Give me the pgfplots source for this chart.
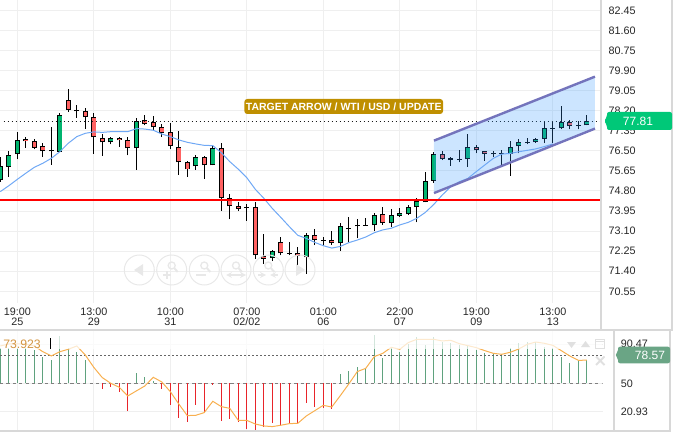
\documentclass[border=0pt]{standalone}
\usepackage{fontspec}
\setmainfont{Liberation Sans}
\usepackage{pgfplots}
\usepackage{pgfplotstable}
\pgfplotsset{compat=1.18}

\definecolor{gridc}{HTML}{EFEFEF}
\definecolor{framec}{HTML}{D8D8D8}
\definecolor{upc}{HTML}{00B46E}
\definecolor{downc}{HTML}{FF6262}
\definecolor{mac}{HTML}{6FA8F5}
\definecolor{chanfill}{HTML}{3399FF}
\definecolor{chanline}{HTML}{7474BC}
\definecolor{goldc}{HTML}{BF8F00}
\definecolor{badgec}{HTML}{00C878}
\definecolor{badge2c}{HTML}{6AA585}
\definecolor{histup}{HTML}{5FA27E}
\definecolor{histdown}{HTML}{E8242A}
\definecolor{rsic}{HTML}{F8B050}
\definecolor{navc}{HTML}{E8E8E8}

% i open high low close
\pgfplotstableread{
i open high low close
0 75.26 76.22 75.19 75.86
1 75.83 76.51 75.40 76.31
2 76.35 77.31 76.14 76.94
7 76.46 78.09 76.46 78.00
13 76.86 77.10 76.77 77.03
16 76.60 77.87 75.70 77.75
23 75.84 76.34 75.69 76.22
25 75.88 76.73 75.88 76.60
32 71.95 72.30 71.83 72.24
36 71.99 73.00 71.30 72.92
40 72.58 73.43 72.27 73.30
44 73.34 73.85 73.10 73.77
46 73.43 74.02 73.29 73.77
47 73.73 74.06 73.71 73.85
48 73.81 74.19 73.78 74.11
49 74.11 74.49 73.47 74.36
50 74.32 75.59 74.32 75.21
51 75.24 76.46 75.14 76.35
55 76.14 77.20 75.83 76.65
60 76.35 76.93 75.45 76.65
61 76.69 76.99 76.39 76.86
63 76.86 77.03 76.84 76.99
64 76.99 77.75 76.82 77.45
66 77.45 78.38 77.41 77.71
69 77.58 78.00 77.58 77.75
}\upbars

\pgfplotstableread{
i open high low close
3 76.99 77.10 76.63 76.90
4 76.90 76.99 76.56 76.63
5 76.69 76.82 76.25 76.48
6 76.52 77.49 75.91 76.48
8 78.64 79.10 78.16 78.24
9 78.21 78.44 77.90 78.17
10 78.17 78.33 77.44 77.92
11 77.92 78.11 76.38 77.07
12 77.03 77.20 76.29 76.86
14 77.03 77.10 76.67 76.94
15 76.94 77.07 76.31 76.60
17 77.79 78.00 77.58 77.62
18 77.71 77.96 77.38 77.49
19 77.49 77.62 77.10 77.24
20 77.28 77.66 76.56 76.69
21 76.65 77.32 75.49 76.01
22 76.01 76.05 75.40 75.71
24 76.22 76.30 75.32 75.88
26 76.60 76.82 73.96 74.49
27 74.49 74.66 73.60 74.15
28 74.15 74.35 73.95 74.05
29 74.11 74.25 73.54 74.06
30 74.11 74.35 71.93 72.07
31 72.03 72.96 71.71 71.93
33 72.62 72.86 72.07 72.16
34 72.16 72.62 72.07 72.13
35 72.16 72.44 71.38 72.03
37 72.92 73.17 72.51 72.71
38 72.71 72.84 72.48 72.67
39 72.71 73.09 72.51 72.58
41 73.22 73.68 72.62 73.17
42 73.34 73.60 72.79 73.30
43 73.34 73.64 73.32 73.33
45 73.81 74.11 73.36 73.43
52 76.35 76.49 76.11 76.14
53 76.18 76.25 75.87 76.10
54 76.14 76.53 76.01 76.10
56 76.65 76.75 76.39 76.52
57 76.48 76.49 76.08 76.36
58 76.39 76.49 76.24 76.35
59 76.39 76.53 75.90 76.36
62 76.86 77.03 76.77 76.82
65 77.45 77.75 76.84 77.44
67 77.71 77.80 77.41 77.54
68 77.58 77.78 77.41 77.54
}\downbars

\pgfplotstableread{
i v
0 86.2
1 86.2
2 86.2
3 86.2
4 84.5
5 76.9
6 74.1
7 98.9
8 86.2
9 82.1
10 74.1
16 61
17 56.2
18 52.4
40 59.7
41 62.8
42 66.5
43 66.2
44 100
45 75.9
46 86.2
47 82.7
48 90.7
49 97.6
50 89.6
51 98.3
52 93.1
53 91.4
54 89.6
55 88.6
56 84.5
57 81
58 80.3
59 80.3
60 86.2
61 91.4
62 92.4
63 93.1
64 87.9
65 86.2
66 77.6
67 70.7
68 74.1
69 74.1
}\histup

\pgfplotstableread{
i v
12 44.1
13 46.6
14 41.4
15 21.7
19 44.1
20 27.9
21 14.5
22 9.7
23 27.9
24 19
25 47.9
26 11.4
27 12.8
28 10.4
29 2.8
30 1.7
31 5.2
32 9.3
33 7.3
34 9.3
35 9.3
36 29.3
37 25.2
38 24.1
39 23.1
}\histdown

\begin{document}
\begin{tikzpicture}
\path[use as bounding box] (0pt,0pt) rectangle (517.5pt,-326.25pt);

\begin{axis}[
    at={(0pt,0pt)}, anchor=north west,
    scale only axis, width=450pt, height=227.25pt,
    xmin=-0.035, xmax=70.55, ymin=70.054, ymax=82.886,
    axis line style={draw=none}, major tick length=0pt,
    grid=major, major grid style={color=gridc, line width=0.75pt},
    xtick={2,11,20,29,38,47,56,65},
    xticklabels={{19:00\\25},{13:00\\29},{10:00\\31},{07:00\\02/02},{01:00\\06},{22:00\\07},{19:00\\09},{13:00\\13}},
    xticklabel style={align=center, font=\fontsize{8.1}{7.4}\selectfont, color=black!85, yshift=-0.1pt},
    ytick={70.55,71.40,72.25,73.10,73.95,74.80,75.65,76.50,77.35,78.20,79.05,79.90,80.75,81.60,82.45},
    ytick pos=right, yticklabel pos=right,
    yticklabel style={xshift=3pt, font=\fontsize{8.1}{9}\selectfont, color=black!85, /pgf/number format/fixed, /pgf/number format/fixed zerofill, /pgf/number format/precision=2, /pgf/number format/assume math mode=true},
    scaled y ticks=false,
]
% wicks
\addplot[draw=none, mark=none, error bars/.cd, y dir=plus, y explicit, error mark=none, error bar style={black, line width=0.75pt}]
    table[x=i, y=low, y error plus expr=\thisrow{high}-\thisrow{low}] {\upbars};
\addplot[draw=none, mark=none, error bars/.cd, y dir=plus, y explicit, error mark=none, error bar style={black, line width=0.75pt}]
    table[x=i, y=low, y error plus expr=\thisrow{high}-\thisrow{low}] {\downbars};
% bodies
\addplot[draw=none, mark=none, error bars/.cd, y dir=plus, y explicit, error mark=none, error bar style={black, line width=4pt}]
    table[x=i, y=open, y error plus expr=\thisrow{close}-\thisrow{open}] {\upbars};
\addplot[draw=none, mark=none, error bars/.cd, y dir=plus, y explicit, error mark=none, error bar style={upc, line width=2.6pt}]
    table[x=i, y expr=\thisrow{open}+0.04, y error plus expr={max(\thisrow{close}-\thisrow{open}-0.08,0)}] {\upbars};
\addplot[draw=none, mark=none, error bars/.cd, y dir=plus, y explicit, error mark=none, error bar style={black, line width=4pt}]
    table[x=i, y=close, y error plus expr=\thisrow{open}-\thisrow{close}] {\downbars};
\addplot[draw=none, mark=none, error bars/.cd, y dir=plus, y explicit, error mark=none, error bar style={downc, line width=2.6pt}]
    table[x=i, y expr=\thisrow{close}+0.04, y error plus expr={max(\thisrow{open}-\thisrow{close}-0.08,0)}] {\downbars};
% last price
\addplot[black!90, line width=0.8pt, dash pattern=on 1.1pt off 1.9pt, no marks] coordinates {(0.4,77.73)(70.55,77.73)};
% channel
\addplot[fill=chanfill, fill opacity=0.25, draw=none, no marks] coordinates {(51.02,76.93)(69.96,79.64)(69.96,77.44)(51.02,74.71)} -- cycle;
% moving average
\addplot[mac, line width=0.75pt, no marks] coordinates {
    (0,74.77)(1,75.02)(2,75.29)(3,75.55)(4,75.80)(5,75.97)(6,76.18)(7,76.46)(8,76.82)(9,77.10)
    (10,77.24)(11,77.30)(12,77.28)(13,77.31)(14,77.31)(15,77.31)(16,77.44)(17,77.42)(18,77.37)(19,77.21)
    (20,77.10)(21,76.96)(22,76.86)(23,76.79)(24,76.73)(25,76.72)(26,76.42)(27,76.04)(28,75.72)(29,75.36)
    (30,74.87)(31,74.49)(32,74.06)(33,73.68)(34,73.29)(35,72.92)(36,72.79)(37,72.62)(38,72.48)(39,72.38)
    (40,72.45)(41,72.61)(42,72.72)(43,72.85)(44,73.03)(45,73.15)(46,73.22)(47,73.36)(48,73.47)(49,73.64)
    (50,73.89)(51,74.23)(52,74.63)(53,74.98)(54,75.19)(55,75.33)(56,75.62)(57,75.90)(58,76.18)(59,76.36)
    (60,76.39)(61,76.46)(62,76.52)(63,76.58)(64,76.68)(65,76.79)
};
\addplot[chanline, line width=1.8pt, no marks] coordinates {(51.02,76.93)(69.96,79.64)};
\addplot[chanline, line width=1.8pt, no marks] coordinates {(51.02,74.71)(69.96,77.44)};
% support
\addplot[red, line width=1.6pt, no marks] coordinates {(-0.035,74.43)(70.55,74.43)};
% title tag
\node[fill=goldc, text=white, rounded corners=2.2pt, font=\fontsize{7.85}{9}\bfseries\selectfont, inner xsep=1.2pt, minimum height=11.25pt, inner ysep=0pt, text height=6pt, text depth=0pt]
    at (axis cs:40.4,78.376) {TARGET ARROW / WTI / USD / UPDATE};
\end{axis}

\begin{axis}[
    at={(0pt,-248.25pt)}, anchor=north west,
    scale only axis, width=452pt, height=74.25pt,
    xmin=-0.035, xmax=70.87, ymin=1.7, ymax=104.1,
    axis line style={draw=none}, major tick length=0pt,
    grid=major, major grid style={color=gridc, line width=0.75pt},
    xtick={2,11,20,29,38,47,56,65}, xticklabels={},
    ytick={20.93,50,90.47}, yticklabels={20.93,50,90.47},
    ytick pos=right, yticklabel pos=right,
    yticklabel style={xshift=10.2pt, font=\fontsize{8.1}{9}\selectfont, color=black!85},
]
\addplot[gray, line width=0.75pt, dash pattern=on 2.4pt off 2.4pt, no marks] coordinates {(-0.035,50)(70.87,50)};
\addplot[draw=none, mark=none, error bars/.cd, y dir=plus, y explicit, error mark=none, error bar style={histup, line width=0.75pt}]
    table[x=i, y expr=50, y error plus expr=\thisrow{v}-50] {\histup};
\addplot[draw=none, mark=none, error bars/.cd, y dir=minus, y explicit, error mark=none, error bar style={histdown, line width=0.75pt}]
    table[x=i, y expr=50, y error minus expr=50-\thisrow{v}] {\histdown};
\addplot[black!60, line width=1.1pt, dash pattern=on 1.2pt off 1.8pt, no marks] coordinates {(-0.035,78.57)(70.87,78.57)};
\addplot[rsic, line width=0.75pt, no marks] coordinates {
    (0,88.6)(1,90.7)(2,90.7)(3,90.7)(4,88.6)(5,82.7)(6,78.3)(7,82.7)(8,85.2)(9,88.6)
    (10,79.3)(11,66.5)(12,55.9)(13,50)(14,45.9)(15,36.9)(16,42.1)(17,47.2)(18,56.2)(19,51.4)
    (20,41.4)(21,28.6)(22,16.6)(23,16.9)(24,19.7)(25,31.4)(26,25.9)(27,24.1)(28,11.7)(29,11.7)
    (30,7.9)(31,5.9)(32,5.2)(33,6.6)(34,8.3)(35,8.6)(36,16.2)(37,21.7)(38,27.2)(39,25.5)
    (40,37.2)(41,49.3)(42,62.1)(43,65.5)(44,77.6)(45,81)(46,87.2)(47,85.2)(48,92.1)(49,95.5)
    (50,95.5)(51,95.5)(52,93.8)(53,94.5)(54,91)(55,89)(56,86.9)(57,83.8)(58,81)(59,80)
    (60,82.1)(61,85.5)(62,90.3)(63,92.7)(64,91.4)(65,89.3)(66,83.8)(67,78.3)(68,73.8)(69,73.9)
};
\end{axis}

% frames, badges and controls, in pixels of the reference
\begin{scope}[x=0.75pt, y=-0.75pt]
  \fill[white, opacity=0.72] (0,331) rectangle (602,348.5);
  \draw[framec, line width=1.5pt] (601,0) -- (601,329);
  \draw[framec, line width=0.9pt] (672,0) -- (672,329.5);
  \draw[framec, line width=1.5pt] (0,329.7) -- (672.5,329.7);
  \draw[framec, line width=1.2pt] (614,330) -- (614,431);
  \draw[framec, line width=0.9pt] (670,330) -- (670,431);
  \draw[framec, line width=1.5pt] (0,431) -- (670.5,431);

  \fill[badgec, rounded corners=1.5pt] (604,121) -- (607,117) -- (607,112) -- (672,112) -- (672,130) -- (607,130) -- (607,125) -- cycle;
  \node[text=white, font=\fontsize{9}{10}\selectfont] at (638,121) {77.81};
  \fill[badge2c, rounded corners=1.5pt] (615,355) -- (618,352) -- (618,346.7) -- (670,346.7) -- (670,363.3) -- (618,363.3) -- (618,358) -- cycle;
  \node[text=white, font=\fontsize{9}{10}\selectfont] at (650,355) {78.57};

  \node[anchor=west, inner sep=0pt, text=rsic!85!black, font=\fontsize{9.2}{10}\selectfont] at (3,344) {73.923};
  \draw[black, line width=0.75pt] (50.5,338) -- (50.5,348.5);

  % indicator controls
  \fill[black!12] (567,342) -- (576,342) -- (571.5,348) -- cycle;
  \fill[black!12] (581,347) -- (590,347) -- (585.5,341) -- cycle;
  \draw[black!12, line width=0.75pt] (595.5,339) rectangle (604.5,348);
  \draw[black!12, line width=0.75pt] (595.5,341) -- (604.5,341);
  \draw[black!12, line width=1.5pt] (596,356.5) -- (604.5,365);
  \draw[black!12, line width=1.5pt] (604.5,356.5) -- (596,365);

  % navigator
  \foreach \cx in {139.3,171.7,204.3,236,268.3,300} {
    \draw[navc, line width=0.75pt] (\cx,270) circle (15);
  }
  \fill[navc] (134,270) -- (143,264) -- (143,276) -- cycle;
  \foreach \cx in {171.7,204.3,236,268.3} {
    \draw[navc, line width=1pt] (\cx,265.5) circle (3.5);
    \draw[navc, line width=1.5pt] (\cx+2.5,268) -- (\cx+6,272);
  }
  \draw[navc, line width=1.2pt] (163,275) -- (171,275) (167,271) -- (167,279);
  \draw[navc, line width=1.5pt] (196,275) -- (206,275);
  \draw[navc, line width=1pt, <->, >=stealth] (226,275) -- (246,275);
  \draw[navc, line width=1pt, ->, >=stealth] (258,275) -- (266,275);
  \draw[navc, line width=1pt, ->, >=stealth] (278,275) -- (270,275);
  \fill[navc] (305,270) -- (296,264) -- (296,276) -- cycle;
\end{scope}
\end{tikzpicture}
\end{document}
